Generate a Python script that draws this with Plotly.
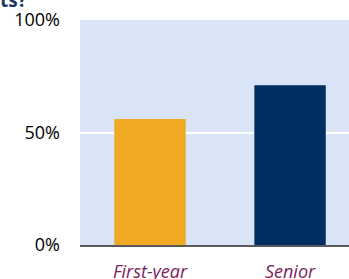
import plotly.graph_objects as go

categories = ["First-year", "Senior"]
values = [0.56, 0.71]
bar_colors = ["#F0A922", "#002D62"]
y_ticks = [0, 0.5, 1.0]
y_tick_labels = ["0%", "50%", "100%"]
title_fragment = "ts?"

fig = go.Figure()
fig.add_trace(go.Bar(
    x=categories, y=values, marker=dict(color=bar_colors, line=dict(width=0)),
    width=0.51, hoverinfo="skip",
))

fig.update_layout(
    width=349, height=279,
    margin=dict(l=80, r=0, t=20, b=34, pad=0, autoexpand=False),
    paper_bgcolor="white", plot_bgcolor="#D9E5F7",
    showlegend=False,
    font=dict(family="Open Sans", color="black"),
    xaxis=dict(
        range=[-0.5, 1.421], showgrid=False, showline=True,
        linecolor="#595959", linewidth=1.5, ticks="",
        tickfont=dict(family="Open Sans", size=18, color="#7B2360", style="italic"),
        ticklabelstandoff=10, fixedrange=True, automargin=False,
    ),
    yaxis=dict(
        range=[0, 1.0], tickvals=y_ticks, ticktext=y_tick_labels,
        showgrid=True, gridcolor="white", gridwidth=2, zeroline=False,
        showline=False, ticks="", ticklabelstandoff=19,
        tickfont=dict(family="Open Sans", size=18, color="black"),
        fixedrange=True, automargin=False,
    ),
    annotations=[dict(
        text="<b>" + title_fragment + "</b>", xref="paper", yref="paper",
        x=-0.19, y=1.02, xanchor="right", yanchor="bottom", showarrow=False,
        font=dict(family="Open Sans", size=19, color="#1F3864"),
    )],
)

fig.write_html("out.html", config={"displayModeBar": False},
               post_script="document.body.style.margin='0px';")
